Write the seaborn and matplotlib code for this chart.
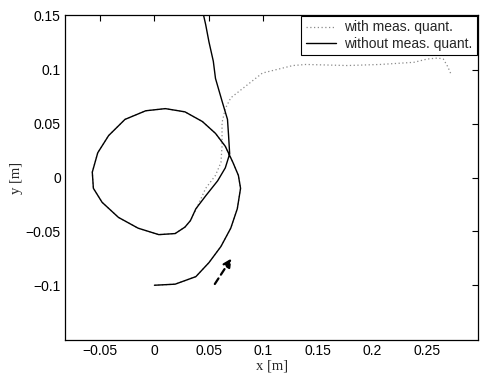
import numpy as np
import pandas as pd
import matplotlib
matplotlib.use("Agg")
import matplotlib.pyplot as plt
import seaborn as sns

# without measurement quantization (solid)
x_without = [0.000, 0.019, 0.038, 0.050, 0.061, 0.070, 0.076, 0.079, 0.077, 0.072, 0.065, 0.056,
             0.044, 0.028, 0.010, -0.008, -0.027, -0.042, -0.052, -0.057, -0.056, -0.048, -0.033,
             -0.015, 0.004, 0.019, 0.028, 0.033, 0.038, 0.047, 0.058, 0.065, 0.069, 0.068, 0.067,
             0.062, 0.056, 0.054, 0.050, 0.047, 0.045]
y_without = [-0.100, -0.099, -0.092, -0.079, -0.064, -0.047, -0.029, -0.010, 0.002, 0.014, 0.029, 0.041,
             0.052, 0.061, 0.064, 0.062, 0.054, 0.039, 0.023, 0.005, -0.010, -0.023, -0.037,
             -0.047, -0.053, -0.052, -0.046, -0.040, -0.029, -0.017, -0.003, 0.009, 0.022, 0.039, 0.054,
             0.071, 0.092, 0.108, 0.126, 0.142, 0.151]

# with measurement quantization (dotted)
x_with = [0.000, 0.019, 0.038, 0.050, 0.061, 0.070, 0.076, 0.079, 0.077, 0.072, 0.065, 0.056,
          0.044, 0.028, 0.010, -0.008, -0.027, -0.042, -0.052, -0.057, -0.056, -0.048, -0.033,
          -0.015, 0.004, 0.019, 0.028, 0.033, 0.038, 0.047, 0.056, 0.061, 0.062, 0.062, 0.065,
          0.070, 0.099, 0.127, 0.139, 0.177, 0.207, 0.238, 0.250, 0.260, 0.265, 0.269, 0.272]
y_with = [-0.100, -0.099, -0.092, -0.079, -0.064, -0.047, -0.029, -0.010, 0.002, 0.014, 0.029, 0.041,
          0.052, 0.061, 0.064, 0.062, 0.054, 0.039, 0.023, 0.005, -0.010, -0.023, -0.037,
          -0.047, -0.053, -0.052, -0.046, -0.040, -0.030, -0.010, 0.002, 0.014, 0.029, 0.051, 0.064,
          0.074, 0.097, 0.104, 0.105, 0.104, 0.105, 0.107, 0.110, 0.111, 0.110, 0.103, 0.096]

# direction arrow
arrow_start = (0.054, -0.101)
arrow_end = (0.072, -0.073)

labels = ["with meas. quant.", "without meas. quant."]
xticks = [-0.05, 0, 0.05, 0.1, 0.15, 0.2, 0.25]
xticklabels = ["\u22120.05", "0", "0.05", "0.1", "0.15", "0.2", "0.25"]
yticks = [-0.1, -0.05, 0, 0.05, 0.1, 0.15]
yticklabels = ["\u22120.1", "\u22120.05", "0", "0.05", "0.1", "0.15"]

sns.set_theme(style="white")
plt.rcParams['font.family'] = ['Liberation Sans', 'DejaVu Sans']

fig = plt.figure(figsize=(4.89, 3.73), dpi=100)
ax = fig.add_axes([0.133, 0.088, 0.845, 0.872])

df_with = pd.DataFrame({"x": x_with, "y": y_with})
df_without = pd.DataFrame({"x": x_without, "y": y_without})

sns.lineplot(data=df_with, x="x", y="y", sort=False, estimator=None, ax=ax,
             color="#8a8a8a", linestyle=(0, (1, 2)), linewidth=0.9, label=labels[0])
sns.lineplot(data=df_without, x="x", y="y", sort=False, estimator=None, ax=ax,
             color="black", linestyle="-", linewidth=1.0, label=labels[1])

ax.annotate("", xy=arrow_end, xytext=arrow_start,
            arrowprops=dict(arrowstyle="-|>", color="black", linewidth=1.6,
                            linestyle=(0, (3, 2)), mutation_scale=12))

ax.set_xlim(-0.082, 0.297)
ax.set_ylim(-0.151, 0.151)
ax.set_xticks(xticks)
ax.set_xticklabels(xticklabels)
ax.set_yticks(yticks)
ax.set_yticklabels(yticklabels)
ax.tick_params(direction="in", length=4, width=0.8, top=True, right=True,
               labelsize=10, colors="black", pad=3)
for s in ax.spines.values():
    s.set_color("black")
    s.set_linewidth(0.9)
ax.set_xlabel("x [m]", family="Liberation Serif", fontsize=10.5, labelpad=1)
ax.set_ylabel("y [m]", family="Liberation Serif", fontsize=10.5, labelpad=2)

leg = ax.legend(loc="upper right", fontsize=10, frameon=True, fancybox=False,
                edgecolor="black", framealpha=1, borderpad=0.3, labelspacing=0.15,
                handlelength=2.2, handletextpad=0.6, borderaxespad=0.1)
leg.get_frame().set_linewidth(0.8)

fig.savefig("out.png", dpi=100)
